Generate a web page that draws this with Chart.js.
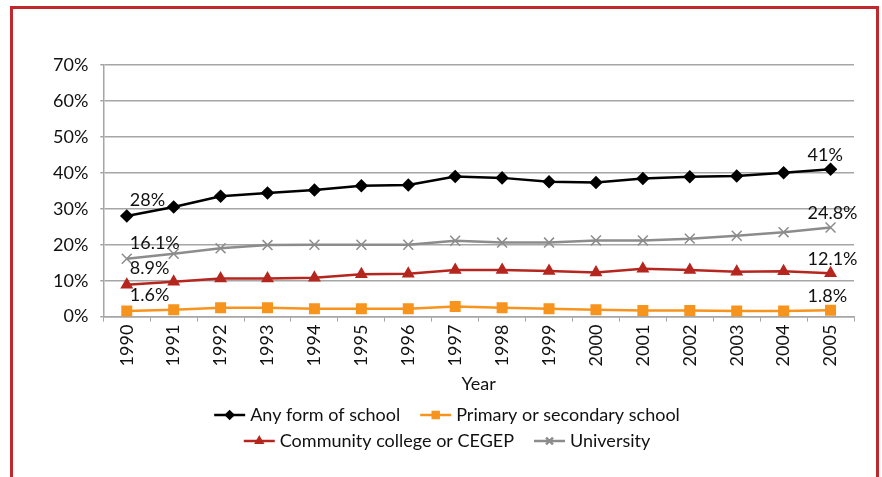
<!DOCTYPE html>
<html>
<head>
<meta charset="utf-8">
<script src="https://cdn.jsdelivr.net/npm/chart.js@4"></script>
<style>
  html, body { margin: 0; padding: 0; background: #fff; }
  #wrap { width: 882px; height: 477px; }
</style>
</head>
<body>
<div id="wrap"><canvas id="myGraphic"></canvas></div>
<script>
// Datos
var years = ['1990','1991','1992','1993','1994','1995','1996','1997','1998','1999','2000','2001','2002','2003','2004','2005'];
var anySchool = [28, 30.5, 33.5, 34.4, 35.2, 36.4, 36.6, 39, 38.6, 37.5, 37.3, 38.4, 38.9, 39.1, 40, 41];
var primarySecondary = [1.6, 1.9, 2.5, 2.5, 2.2, 2.2, 2.2, 2.8, 2.5, 2.2, 1.9, 1.7, 1.7, 1.6, 1.6, 1.8];
var community = [8.9, 9.7, 10.6, 10.6, 10.8, 11.8, 11.9, 13, 13, 12.7, 12.3, 13.3, 13, 12.5, 12.6, 12.1];
var university = [16.1, 17.5, 19, 19.9, 20, 20, 20, 21.1, 20.6, 20.6, 21.2, 21.2, 21.7, 22.5, 23.5, 24.8];
var yTicks = [0, 10, 20, 30, 40, 50, 60, 70];

var font = 'Lato';

// Borde rojo
var frame = {
    id: 'frame',
    beforeDraw: function (chart) {
        var c = chart.ctx;
        c.save();
        c.strokeStyle = '#c0282d';
        c.lineWidth = 3;
        c.beginPath();
        c.moveTo(11.5, 477);
        c.lineTo(11.5, 7.5);
        c.lineTo(877.5, 7.5);
        c.lineTo(877.5, 477);
        c.stroke();
        c.restore();
    }
};

// Etiquetas del primer y ultimo punto
var endLabels = {
    id: 'endLabels',
    afterDatasetsDraw: function (chart) {
        var c = chart.ctx;
        c.save();
        c.font = '18px ' + font;
        c.fillStyle = '#111';
        c.textBaseline = 'middle';
        chart.data.datasets.forEach(function (ds, i) {
            var meta = chart.getDatasetMeta(i);
            var first = meta.data[0];
            var last = meta.data[meta.data.length - 1];
            c.textAlign = 'left';
            c.fillText(ds.data[0] + '%', first.x + 3, first.y - 16);
            c.fillText(ds.data[ds.data.length - 1] + '%', last.x - 23, last.y - 14);
        });
        c.restore();
    }
};

// Leyenda en dos filas, linea con marcador
var legendRows = [[0, 1], [2, 3]];
var customLegend = {
    id: 'customLegend',
    afterDraw: function (chart) {
        var c = chart.ctx;
        c.save();
        c.font = '18px ' + font;
        c.textBaseline = 'middle';
        var rowY = [415, 441];
        var centerX = 447;
        legendRows.forEach(function (row, r) {
            var widths = row.map(function (i) {
                return 31 + 5 + c.measureText(chart.data.datasets[i].label).width;
            });
            var total = widths.reduce(function (a, b) { return a + b; }, 0) + 20 * (row.length - 1);
            var x = centerX - total / 2;
            row.forEach(function (i, k) {
                var ds = chart.data.datasets[i];
                var y = rowY[r];
                c.strokeStyle = ds.borderColor;
                c.fillStyle = ds.borderColor;
                c.lineWidth = 2.5;
                c.beginPath();
                c.moveTo(x, y);
                c.lineTo(x + 31, y);
                c.stroke();
                Chart.helpers.drawPoint(c, {
                    pointStyle: ds.pointStyle,
                    radius: ds.pointRadius * 0.7,
                    borderWidth: 1.5
                }, x + 15.5, y);
                c.fillStyle = '#111';
                c.textAlign = 'left';
                c.fillText(ds.label, x + 36, y);
                x += widths[k] + 20;
            });
        });
        c.restore();
    }
};

var myChart = new Chart('myGraphic', {
    type: 'line',
    data: {
        labels: years,
        datasets: [{
            label: 'Any form of school',
            data: anySchool,
            borderColor: '#000000',
            backgroundColor: '#000000',
            pointBackgroundColor: '#000000',
            pointStyle: 'rectRot',
            pointRadius: 5,
            borderWidth: 2.5
        }, {
            label: 'Primary or secondary school',
            data: primarySecondary,
            borderColor: '#f7941d',
            backgroundColor: '#f7941d',
            pointBackgroundColor: '#f7941d',
            pointStyle: 'rect',
            pointRadius: 6,
            borderWidth: 2.5
        }, {
            label: 'Community college or CEGEP',
            data: community,
            borderColor: '#b5261e',
            backgroundColor: '#b5261e',
            pointBackgroundColor: '#b5261e',
            pointStyle: 'triangle',
            pointRadius: 5,
            borderWidth: 2.5
        }, {
            label: 'University',
            data: university,
            borderColor: '#8c8c8c',
            backgroundColor: '#8c8c8c',
            pointBackgroundColor: '#8c8c8c',
            pointStyle: 'crossRot',
            pointRadius: 7,
            pointBorderWidth: 1.5,
            borderWidth: 2.5
        }]
    },
    options: {
        responsive: true,
        maintainAspectRatio: false,
        animation: false,
        layout: {
            padding: { left: 41, right: 28, top: 65, bottom: 82 }
        },
        scales: {
            x: {
                offset: true,
                grid: {
                    offset: true,
                    drawOnChartArea: false,
                    tickLength: 5,
                    color: '#a6a6a6'
                },
                border: { color: '#a6a6a6', width: 1.5 },
                ticks: {
                    minRotation: 90,
                    maxRotation: 90,
                    padding: 3,
                    color: '#111',
                    font: { size: 18, family: font }
                },
                title: {
                    display: true,
                    text: 'Year',
                    color: '#111',
                    padding: { top: 4, bottom: 0 },
                    font: { size: 18, family: font }
                }
            },
            y: {
                min: 0,
                max: 70,
                afterBuildTicks: function (axis) {
                    axis.ticks = yTicks.map(function (v) { return { value: v }; });
                },
                grid: {
                    color: '#a6a6a6',
                    lineWidth: 1.5,
                    tickLength: 3
                },
                border: { color: '#a6a6a6', width: 1.5 },
                ticks: {
                    padding: 12,
                    color: '#111',
                    font: { size: 18, family: font },
                    callback: function (v) { return v + '%'; }
                }
            }
        },
        plugins: {
            legend: { display: false },
            tooltip: { enabled: false }
        }
    },
    plugins: [frame, endLabels, customLegend]
});
</script>
</body>
</html>
